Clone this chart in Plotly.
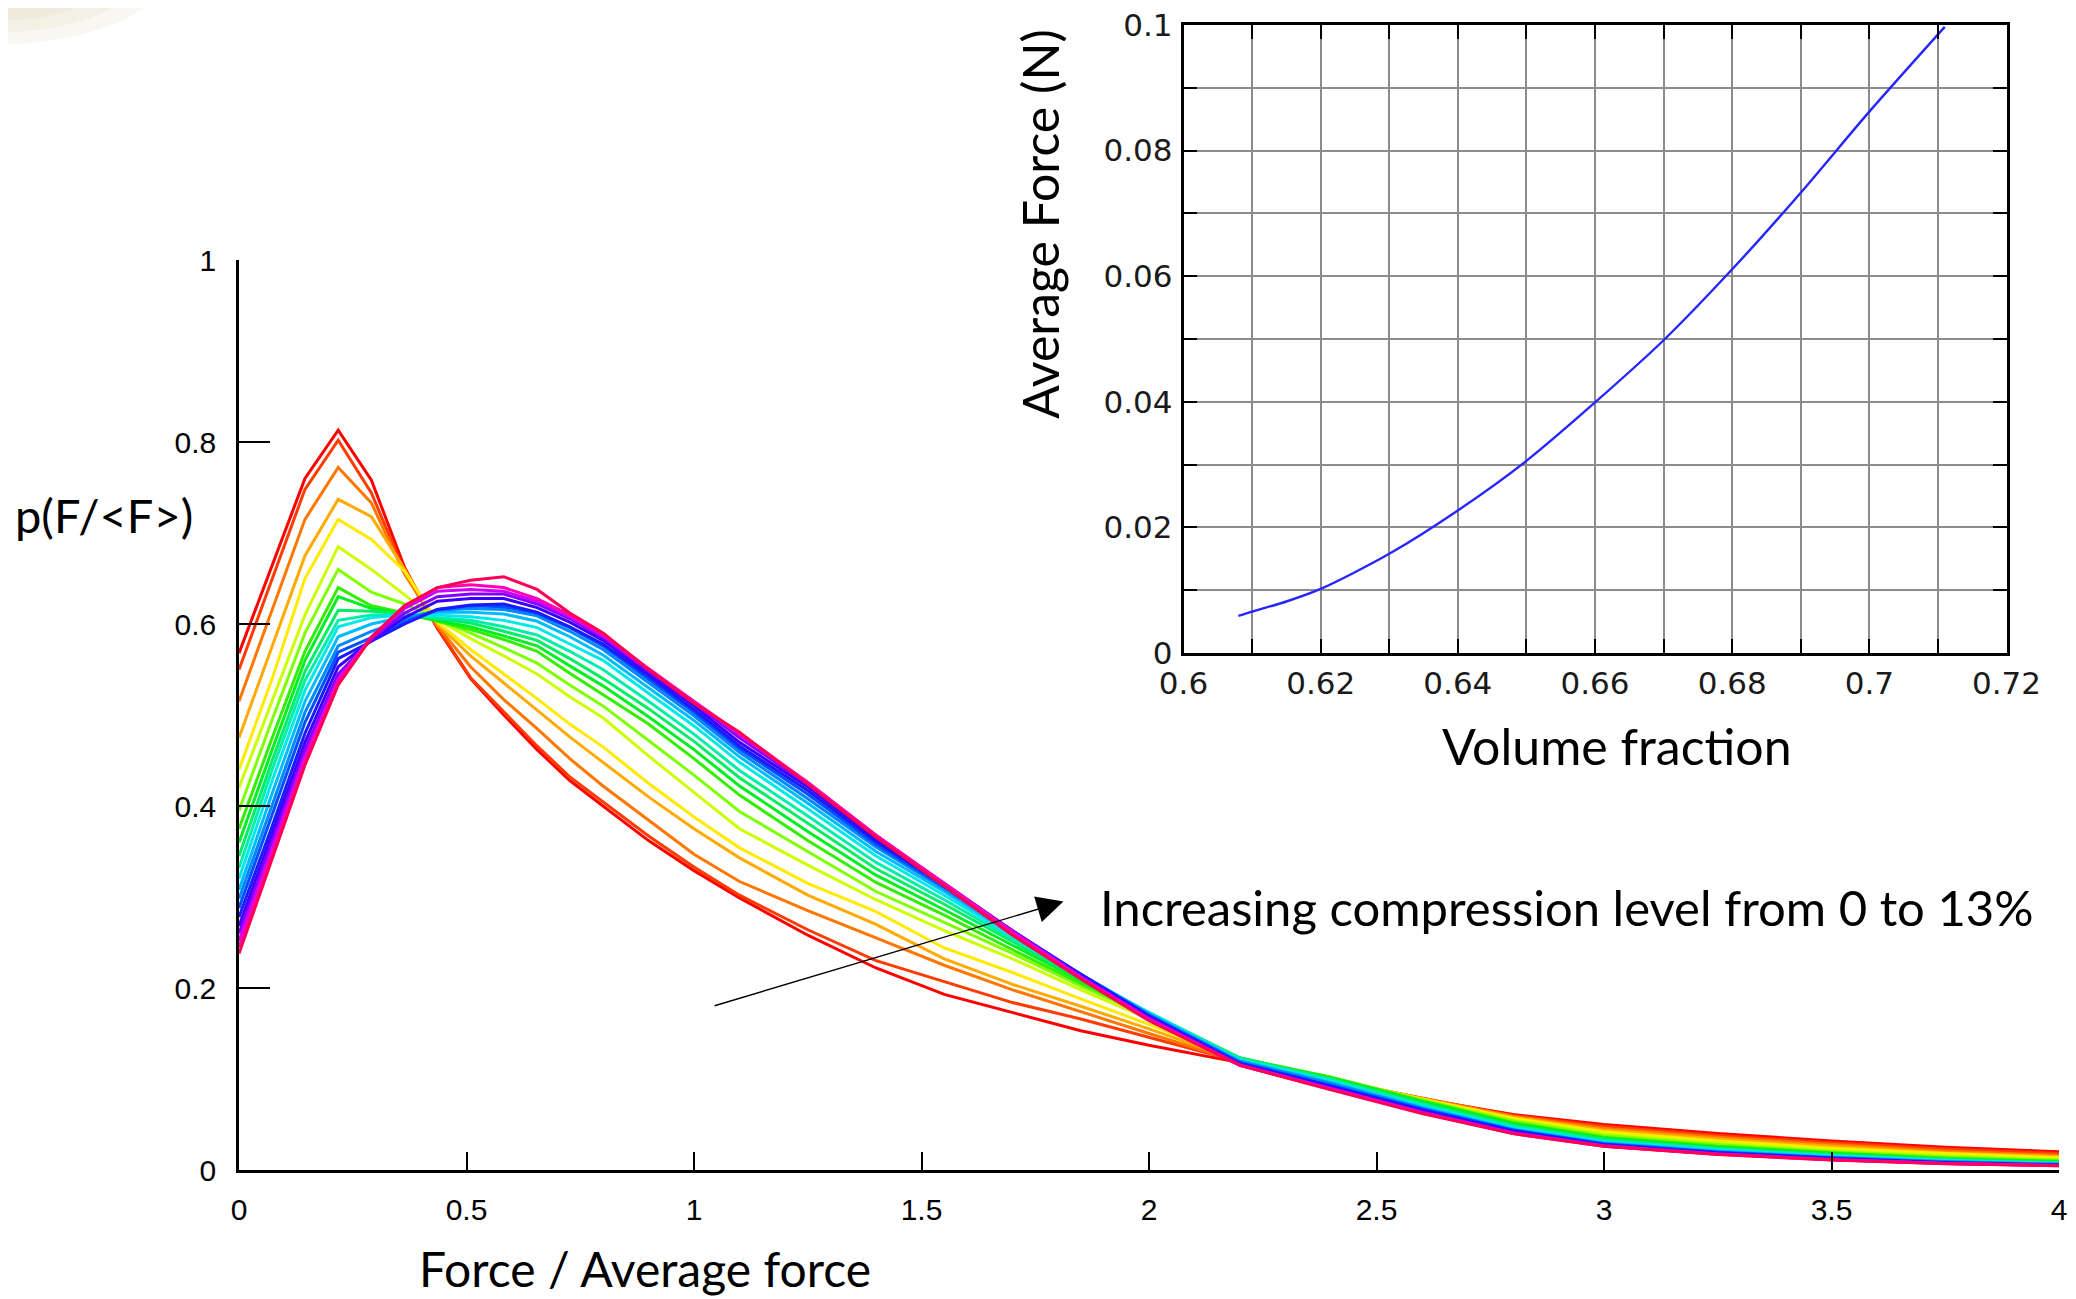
import plotly.graph_objects as go

PAGE_W, PAGE_H = 2076, 1299
OFF = 8  # the page body margin; the figure starts 8 px in from the page corner

# ---------------- data: main chart (force distributions) ----------------
force_ratio = [0, 0.073, 0.145, 0.218, 0.291, 0.364, 0.436, 0.509, 0.582, 0.655,
               0.727, 0.8, 0.9, 1.0, 1.1, 1.25, 1.4, 1.55, 1.7, 1.85,
               2.0, 2.2, 2.4, 2.6, 2.8, 3.0, 3.25, 3.5, 3.75, 4.0]

p00 = [0.568, 0.665, 0.760, 0.813, 0.758, 0.662, 0.595, 0.540, 0.500, 0.462, 0.428, 0.400, 0.362, 0.329, 0.299, 0.258, 0.222, 0.193, 0.173, 0.153, 0.137, 0.118, 0.098, 0.078, 0.061, 0.050, 0.040, 0.032, 0.025, 0.020]
p01 = [0.550, 0.649, 0.748, 0.802, 0.744, 0.657, 0.596, 0.541, 0.503, 0.466, 0.432, 0.405, 0.367, 0.333, 0.302, 0.264, 0.230, 0.207, 0.184, 0.166, 0.146, 0.119, 0.099, 0.079, 0.060, 0.048, 0.038, 0.030, 0.023, 0.018]
p02 = [0.515, 0.615, 0.715, 0.772, 0.733, 0.655, 0.598, 0.553, 0.517, 0.485, 0.452, 0.422, 0.385, 0.347, 0.317, 0.285, 0.255, 0.225, 0.198, 0.174, 0.150, 0.119, 0.099, 0.079, 0.059, 0.046, 0.036, 0.028, 0.021, 0.016]
p03 = [0.475, 0.575, 0.675, 0.737, 0.718, 0.660, 0.600, 0.565, 0.535, 0.505, 0.476, 0.448, 0.410, 0.375, 0.343, 0.302, 0.270, 0.232, 0.204, 0.180, 0.155, 0.120, 0.100, 0.078, 0.058, 0.044, 0.034, 0.026, 0.019, 0.0148]
p04 = [0.440, 0.540, 0.650, 0.715, 0.693, 0.658, 0.602, 0.572, 0.545, 0.518, 0.490, 0.465, 0.425, 0.388, 0.354, 0.315, 0.284, 0.244, 0.217, 0.188, 0.160, 0.120, 0.100, 0.078, 0.057, 0.042, 0.032, 0.024, 0.018, 0.0135]
p05 = [0.420, 0.515, 0.610, 0.685, 0.660, 0.632, 0.605, 0.584, 0.565, 0.545, 0.520, 0.497, 0.455, 0.415, 0.375, 0.335, 0.297, 0.263, 0.232, 0.198, 0.166, 0.121, 0.101, 0.077, 0.055, 0.040, 0.030, 0.022, 0.016, 0.012]
p06 = [0.395, 0.495, 0.590, 0.660, 0.635, 0.622, 0.605, 0.590, 0.574, 0.557, 0.533, 0.510, 0.472, 0.434, 0.394, 0.350, 0.306, 0.272, 0.238, 0.202, 0.169, 0.122, 0.102, 0.077, 0.054, 0.038, 0.028, 0.020, 0.0145, 0.0107]
p07 = [0.375, 0.475, 0.570, 0.640, 0.620, 0.612, 0.603, 0.594, 0.583, 0.570, 0.546, 0.522, 0.490, 0.452, 0.412, 0.362, 0.316, 0.280, 0.242, 0.205, 0.171, 0.123, 0.102, 0.076, 0.052, 0.036, 0.026, 0.019, 0.013, 0.0095]
p08 = [0.360, 0.462, 0.560, 0.630, 0.617, 0.611, 0.604, 0.597, 0.587, 0.576, 0.554, 0.532, 0.498, 0.462, 0.422, 0.372, 0.324, 0.286, 0.247, 0.208, 0.172, 0.123, 0.101, 0.075, 0.051, 0.035, 0.025, 0.018, 0.012, 0.0088]
p09 = [0.345, 0.450, 0.548, 0.615, 0.614, 0.611, 0.606, 0.601, 0.592, 0.582, 0.562, 0.540, 0.507, 0.471, 0.431, 0.381, 0.331, 0.292, 0.251, 0.210, 0.173, 0.123, 0.100, 0.073, 0.049, 0.034, 0.024, 0.017, 0.0115, 0.0082]
p10 = [0.332, 0.440, 0.538, 0.604, 0.610, 0.610, 0.607, 0.604, 0.597, 0.588, 0.570, 0.550, 0.515, 0.479, 0.439, 0.389, 0.338, 0.297, 0.254, 0.212, 0.173, 0.122, 0.099, 0.072, 0.048, 0.032, 0.023, 0.016, 0.011, 0.0076]
p11 = [0.320, 0.428, 0.527, 0.597, 0.607, 0.610, 0.610, 0.608, 0.604, 0.596, 0.578, 0.560, 0.524, 0.488, 0.448, 0.397, 0.345, 0.302, 0.257, 0.214, 0.173, 0.121, 0.097, 0.070, 0.046, 0.031, 0.022, 0.015, 0.010, 0.007]
p12 = [0.308, 0.414, 0.515, 0.586, 0.600, 0.608, 0.613, 0.613, 0.611, 0.603, 0.586, 0.566, 0.530, 0.494, 0.454, 0.403, 0.350, 0.306, 0.259, 0.215, 0.172, 0.120, 0.096, 0.069, 0.045, 0.030, 0.021, 0.0143, 0.0095, 0.0066]
p13 = [0.298, 0.402, 0.503, 0.576, 0.592, 0.605, 0.615, 0.617, 0.616, 0.609, 0.592, 0.572, 0.536, 0.499, 0.459, 0.408, 0.355, 0.309, 0.261, 0.215, 0.171, 0.119, 0.095, 0.068, 0.044, 0.029, 0.020, 0.0137, 0.009, 0.0062]
p14 = [0.288, 0.390, 0.492, 0.569, 0.585, 0.602, 0.616, 0.620, 0.619, 0.612, 0.596, 0.576, 0.540, 0.503, 0.463, 0.413, 0.358, 0.311, 0.262, 0.215, 0.170, 0.118, 0.093, 0.067, 0.044, 0.0285, 0.0195, 0.0133, 0.0085, 0.0058]
p15 = [0.278, 0.378, 0.480, 0.562, 0.581, 0.600, 0.616, 0.621, 0.622, 0.613, 0.597, 0.578, 0.543, 0.506, 0.466, 0.417, 0.361, 0.313, 0.263, 0.215, 0.169, 0.117, 0.092, 0.066, 0.043, 0.028, 0.019, 0.013, 0.008, 0.0055]
p16 = [0.268, 0.370, 0.470, 0.553, 0.582, 0.607, 0.625, 0.628, 0.628, 0.618, 0.602, 0.582, 0.546, 0.510, 0.470, 0.421, 0.364, 0.314, 0.263, 0.214, 0.168, 0.116, 0.091, 0.065, 0.042, 0.027, 0.018, 0.012, 0.0077, 0.0052]
p17 = [0.260, 0.362, 0.462, 0.545, 0.583, 0.612, 0.630, 0.633, 0.633, 0.622, 0.606, 0.585, 0.548, 0.513, 0.475, 0.424, 0.366, 0.315, 0.263, 0.213, 0.167, 0.116, 0.090, 0.064, 0.041, 0.027, 0.0178, 0.0117, 0.0074, 0.005]
p18 = [0.252, 0.354, 0.455, 0.540, 0.585, 0.617, 0.636, 0.638, 0.636, 0.625, 0.608, 0.587, 0.550, 0.515, 0.478, 0.426, 0.368, 0.315, 0.262, 0.212, 0.166, 0.115, 0.089, 0.063, 0.041, 0.0265, 0.0175, 0.0114, 0.0072, 0.0049]
p19 = [0.245, 0.348, 0.450, 0.537, 0.586, 0.620, 0.640, 0.643, 0.640, 0.628, 0.610, 0.589, 0.551, 0.515, 0.480, 0.426, 0.368, 0.315, 0.261, 0.211, 0.165, 0.115, 0.089, 0.063, 0.040, 0.026, 0.0172, 0.0112, 0.0071, 0.0048]
p20 = [0.238, 0.343, 0.445, 0.533, 0.585, 0.620, 0.640, 0.648, 0.652, 0.638, 0.612, 0.590, 0.550, 0.513, 0.481, 0.424, 0.366, 0.312, 0.258, 0.210, 0.164, 0.115, 0.088, 0.062, 0.040, 0.026, 0.017, 0.011, 0.007, 0.0047]

distributions = [p00, p01, p02, p03, p04, p05, p06, p07, p08, p09, p10,
                 p11, p12, p13, p14, p15, p16, p17, p18, p19, p20]

curve_colors = ["#ff0000", "#ff3b00", "#ff7700", "#ffaa00", "#ffea00", "#ccff00",
                "#80ff00", "#33ee00", "#00ee22", "#00ee66", "#00eeaa", "#00e8e8",
                "#00bbff", "#0088ff", "#0050ff", "#1a1aff", "#3a00ff", "#8000ff",
                "#cc00ff", "#ff00b3", "#ff0055"]

x_ticks = [0, 0.5, 1, 1.5, 2, 2.5, 3, 3.5, 4]
x_tick_text = ["0", "0.5", "1", "1.5", "2", "2.5", "3", "3.5", "4"]
y_ticks = [0, 0.2, 0.4, 0.6, 0.8, 1]
y_tick_text = ["0", "0.2", "0.4", "0.6", "0.8", "1"]

# ---------------- data: inset (average force vs volume fraction) ----------------
volume_fraction = [0.608, 0.61, 0.615, 0.62, 0.63, 0.64, 0.65, 0.66, 0.67, 0.68, 0.69, 0.70, 0.711]
average_force = [0.0059, 0.0066, 0.0082, 0.0102, 0.0158, 0.0227, 0.0306, 0.0399, 0.0498, 0.0611, 0.0733, 0.0862, 0.0997]

inset_x_ticks = [0.6, 0.62, 0.64, 0.66, 0.68, 0.7, 0.72]
inset_x_text = ["0.6", "0.62", "0.64", "0.66", "0.68", "0.7", "0.72"]
inset_x_minor = [0.61, 0.63, 0.65, 0.67, 0.69, 0.71]
inset_y_ticks = [0, 0.02, 0.04, 0.06, 0.08, 0.1]
inset_y_text = ["0", "0.02", "0.04", "0.06", "0.08", "0.1"]
inset_y_minor = [0.01, 0.03, 0.05, 0.07, 0.09]

# ---------------- layout geometry (page pixels) ----------------
L, R, T, B = 239, 2059, 25, 1170
PW, PH = R - L, B - T
MAIN_TOP = 260
INSET = dict(left=1183.5, right=2006.5, top=25, bottom=653)
FIG_W, FIG_H = PAGE_W - OFF, PAGE_H - OFF


def px(x):
    return (x - L) / PW


def py(y):
    return (B - y) / PH


fig = go.Figure()

for vals, col in zip(distributions, curve_colors):
    fig.add_trace(go.Scatter(x=force_ratio, y=vals, mode="lines",
                             line=dict(color=col, width=3),
                             showlegend=False, hoverinfo="skip",
                             xaxis="x", yaxis="y"))

fig.add_trace(go.Scatter(x=volume_fraction, y=average_force, mode="lines",
                         line=dict(color="#2626ff", width=2.4, shape="spline", smoothing=0.8),
                         showlegend=False, hoverinfo="skip",
                         xaxis="x2", yaxis="y2"))

tick_font_main = dict(family="Liberation Sans", size=30, color="black")
tick_font_inset = dict(family="DejaVu Sans", size=31, color="#1a1a1a")
grid_col = "#8c8c8c"

fig.update_layout(
    template="none",
    width=FIG_W, height=FIG_H,
    margin=dict(l=L - OFF, r=PAGE_W - R, t=T - OFF, b=PAGE_H - B, pad=0, autoexpand=False),
    paper_bgcolor="white", plot_bgcolor="rgba(0,0,0,0)",
    xaxis=dict(domain=[0, 1], range=[0, 4], anchor="y", automargin=False,
               showline=True, linecolor="black", linewidth=2.5,
               ticks="inside", ticklen=18, tickwidth=1.5, tickcolor="black",
               tickvals=x_ticks, ticktext=x_tick_text, tickfont=tick_font_main,
               ticklabelstandoff=11, ticklabeloverflow="allow",
               showgrid=False, zeroline=False),
    yaxis=dict(domain=[0, py(MAIN_TOP)], range=[0, 1], anchor="x", automargin=False,
               showline=True, linecolor="black", linewidth=2.5,
               ticks="inside", ticklen=31, tickwidth=1.5, tickcolor="black",
               tickvals=y_ticks, ticktext=y_tick_text, tickfont=tick_font_main,
               ticklabelstandoff=14, ticklabeloverflow="allow",
               showgrid=False, zeroline=False),
    xaxis2=dict(domain=[px(INSET["left"]), px(INSET["right"])], range=[0.6, 0.72], anchor="y2",
                automargin=False,
                showline=True, mirror="ticks", linecolor="black", linewidth=2.5,
                ticks="inside", ticklen=14, tickwidth=2, tickcolor="black",
                tickvals=inset_x_ticks, ticktext=inset_x_text, tickfont=tick_font_inset,
                ticklabelstandoff=1, ticklabeloverflow="allow",
                showgrid=True, gridcolor=grid_col, gridwidth=2, zeroline=False,
                minor=dict(tickvals=inset_x_minor, ticks="inside", ticklen=14, tickwidth=2,
                           tickcolor="black", showgrid=True, gridcolor=grid_col, gridwidth=2)),
    yaxis2=dict(domain=[py(INSET["bottom"]), py(INSET["top"])], range=[0, 0.1], anchor="x2",
                automargin=False,
                showline=True, mirror="ticks", linecolor="black", linewidth=2.5,
                ticks="inside", ticklen=14, tickwidth=2, tickcolor="black",
                tickvals=inset_y_ticks, ticktext=inset_y_text, tickfont=tick_font_inset,
                ticklabelstandoff=2, ticklabeloverflow="allow",
                showgrid=True, gridcolor=grid_col, gridwidth=2, zeroline=False,
                minor=dict(tickvals=inset_y_minor, ticks="inside", ticklen=14, tickwidth=2,
                           tickcolor="black", showgrid=True, gridcolor=grid_col, gridwidth=2)),
)

annotations = [
    dict(text="p(F/&lt;F&gt;)", x=px(104), y=py(515), xref="paper", yref="paper",
         xanchor="center", yanchor="middle", showarrow=False,
         font=dict(family="Lato", size=47, color="black")),
    dict(text="Force / Average force", x=px(645), y=py(1268), xref="paper", yref="paper",
         xanchor="center", yanchor="middle", showarrow=False,
         font=dict(family="Lato", size=48, color="black")),
    dict(text="Increasing compression level from 0 to 13%", x=px(1098), y=py(907),
         xref="paper", yref="paper", xanchor="left", yanchor="middle",
         showarrow=False, font=dict(family="Lato", size=49, color="black")),
    dict(text="Volume fraction", x=px(1617), y=py(746), xref="paper", yref="paper",
         xanchor="center", yanchor="middle", showarrow=False,
         font=dict(family="Lato", size=50, color="black")),
    dict(text="Average Force (N)", x=px(1040), y=py(224), xref="paper", yref="paper",
         xanchor="center", yanchor="middle", textangle=-90, showarrow=False,
         font=dict(family="Lato", size=50, color="black")),
    # arrow "increasing compression"
    dict(text="", x=1.812, y=0.295, xref="x", yref="y",
         ax=1.042, ay=0.18, axref="x", ayref="y",
         showarrow=True, arrowhead=2, arrowsize=3.8, arrowwidth=1.4, arrowcolor="black"),
]
fig.update_layout(annotations=annotations)

# faint beige glow in the top-left corner (background decoration)
shapes = []
for s in [1.0, 0.86, 0.72, 0.58, 0.45, 0.32, 0.2]:
    shapes.append(dict(type="circle", xref="paper", yref="paper", layer="below",
                       x0=px(-175 * s), x1=px(175 * s), y0=py(-40 + 84 * s), y1=py(-40 - 84 * s),
                       fillcolor="#d6c3a6", opacity=0.14, line=dict(width=0)))
fig.update_layout(shapes=shapes)

fig.write_html("out.html")
